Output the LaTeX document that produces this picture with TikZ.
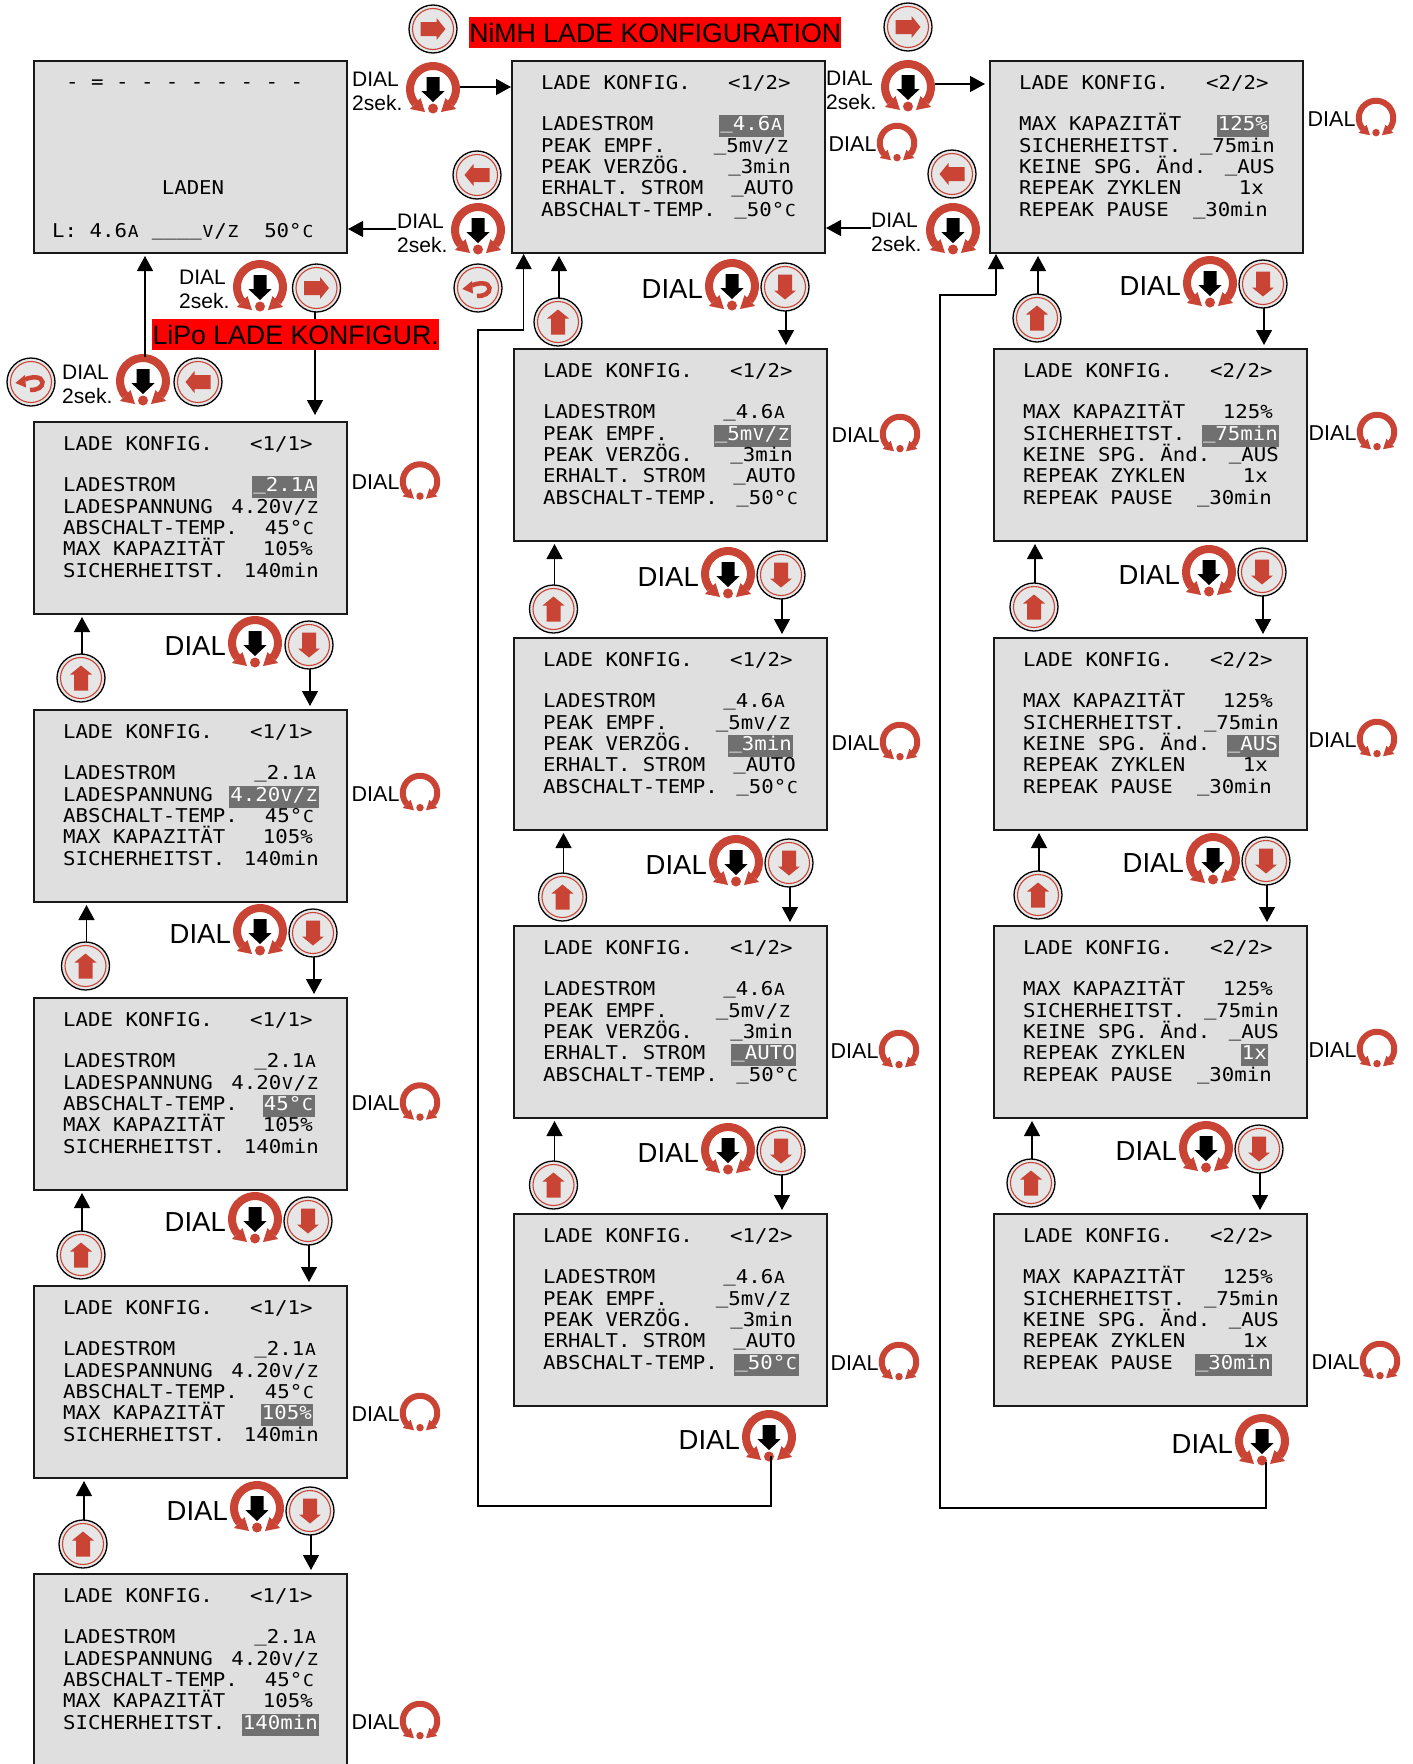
\documentclass[tikz,border=0pt]{standalone}
\usepackage{fontspec}
\usetikzlibrary{arrows.meta,calc}
\setmainfont{Liberation Sans}
\newfontfamily\lcdfont[FakeStretch=1.09]{DejaVu Sans Mono}
\definecolor{dred}{HTML}{C94435}
\definecolor{lcdgray}{HTML}{DFDFDF}
\definecolor{hlgray}{HTML}{707070}
\definecolor{btngray}{HTML}{E6E6E6}
\newcommand\cw[1]{\makebox[12.5pt]{\fontsize{16.5}{16.5}\selectfont #1}}
\newcommand\sA{\cw{A}}
\newcommand\VZ{\cw{V}/\cw{Z}}
\newcommand\dC{°\cw{C}}
\newcommand\ul{\raisebox{2pt}{\char`\_}}
\tikzset{
  lcdbox/.style={draw=black!90,line width=1.5pt,fill=lcdgray,rectangle,anchor=north west,minimum width=313pt,minimum height=192pt,inner sep=0pt,outer sep=0pt},
  lcdtxt/.style={font=\lcdfont\fontsize{19}{19}\selectfont,inner sep=0pt,text=black},
  labtxt/.style={lcdtxt,anchor=base west},
  valpl/.style={lcdtxt,anchor=base east},
  valhl/.style={lcdtxt,anchor=base east,fill=hlgray,text=white,text height=15.5pt,text depth=6.5pt,inner xsep=1pt},
  conn/.style={line width=1.3pt,black,-{Triangle[length=15pt,width=16pt]}},
  iconanchor/.style={circle,inner sep=0pt,outer sep=0pt},
  btnnode/.style={circle,draw=black,line width=1.3pt,fill=btngray,minimum size=48pt,inner sep=0pt,outer sep=0pt},
  dialsm/.style={font=\fontsize{21.5}{21.5}\selectfont,inner sep=0pt},
  diallg/.style={font=\fontsize{27.5}{27.5}\selectfont,inner sep=0pt,anchor=east},
  dialtwo/.style={font=\fontsize{21}{24}\selectfont,inner sep=0pt,align=left,anchor=west},
  redlabel/.style={fill=red,text=black,font=\fontsize{26.7}{26.7}\selectfont,inner sep=0pt,anchor=west,minimum height=31pt},
}
% ---- icons ----
\newcommand\dialicon[5]{%
  \node[iconanchor,minimum size=#4*54pt] (#1) at (#2,#3) {};
  \begin{scope}[shift={(#2,#3)},x=1pt,y=1pt,scale=#4]
    \draw[dred,line width=#4*8pt] (-40:23) arc (-40:220:23);
    \fill[dred] (-23,-20)--(-8,-23)--(-12.5,-9)--cycle;
    \fill[dred] (23,-20)--(8,-23)--(12.5,-9)--cycle;
    \fill[dred] (0,-19.5) circle (5);
    \ifnum#5=1
      \fill[black] (-6.5,12)--(6.5,12)--(6.5,-2)--(11.7,-2)--(0,-13)--(-11.7,-2)--(-6.5,-2)--cycle;
    \fi
  \end{scope}}
\newcommand\arrowbtn[4]{%
  \node[btnnode] (#1) at (#2,#3) {};
  \begin{scope}[shift={(#2,#3)},rotate=#4,x=1pt,y=1pt]
    \draw[dred,line width=1.1pt] (0,0) circle (20.5);
    \fill[dred] (-12.5,7)--(3.5,7)--(3.5,11)--(12.5,0)--(3.5,-11)--(3.5,-7)--(-12.5,-7)--cycle;
  \end{scope}}
\newcommand\backbtn[3]{%
  \node[btnnode] (#1) at (#2,#3) {};
  \begin{scope}[shift={(#2,#3)},x=1pt,y=1pt]
    \draw[dred,line width=1.1pt] (0,0) circle (20.5);
    \fill[dred] (-15.7,-1)--(-6,7)--(-5,-5.5)--cycle;
    \draw[dred,line width=4.5pt] (-6,2.5) .. controls (0,5.5) and (11,6) .. (11.5,0) .. controls (12,-5) and (6,-8.5) .. (-1,-8);
  \end{scope}}
\newcommand\smalldial[3]{%
  \dialicon{sd#1}{#2}{#3}{0.75}{0}
  \node[dialsm,anchor=west] (st#1) at (#2-68.5,#3+1) {DIAL};}
% row between two screens: id, dial x,y, btn x,y, up x,y, next screen, prev screen
\newcommand\crow[9]{%
  \node[diallg] (dt#1) at (#2-29,#3+3) {DIAL};
  \dialicon{dl#1}{#2}{#3}{1}{1}
  \arrowbtn{bd#1}{#4}{#5}{-90}
  \arrowbtn{bu#1}{#6}{#7}{90}
  \draw[conn,shorten >=4pt] ([xshift=1pt]bd#1.south) -- ([xshift=1pt]bd#1.south |- #8.north);
  \draw[conn,shorten >=3pt] ([xshift=1pt]bu#1.north) -- ([xshift=1pt]bu#1.north |- #9.south);}
% ---- screens ----
\newcommand\lefts[3]{%
  \node[lcdbox] (#1) at (34,#2) {};
  \node[labtxt] (#1-t) at (34+29,#2+28.7) {LADE KONFIG.~~~<1/1>};
  \foreach \nn/\lab/\val/\rx in {1/LADESTROM/{\ul 2.1\sA}/283,2/LADESPANNUNG/{4.20\VZ}/285,3/ABSCHALT-TEMP./{45\dC}/281,4/MAX KAPAZITÄT/{105\%}/279,5/SICHERHEITST./{140min}/285}{%
    \node[labtxt] (#1-l\nn) at (34+29,#2+48.3+21.4*\nn) {\lab};
    \ifnum\nn=#3
      \node[valhl] (#1-v\nn) at (34+\rx,#2+48.3+21.4*\nn) {\val};
    \else
      \node[valpl] (#1-v\nn) at (34+\rx,#2+48.3+21.4*\nn) {\val};
    \fi}}
\newcommand\mids[4]{%
  \node[lcdbox] (#1) at (#2,#3) {};
  \node[labtxt] (#1-t) at (#2+29,#3+28.7) {LADE KONFIG.~~~<1/2>};
  \foreach \nn/\lab/\val/\rx in {1/LADESTROM/{\ul 4.6\sA}/272,2/PEAK EMPF./{\ul 5m\VZ}/277,3/PEAK VERZÖG./{\ul 3min}/279,4/ERHALT. STROM/{\ul AUTO}/282,5/ABSCHALT-TEMP./{\ul 50\dC}/285}{%
    \node[labtxt] (#1-l\nn) at (#2+29,#3+48.3+21.4*\nn) {\lab};
    \ifnum\nn=#4
      \node[valhl] (#1-v\nn) at (#2+\rx,#3+48.3+21.4*\nn) {\val};
    \else
      \node[valpl] (#1-v\nn) at (#2+\rx,#3+48.3+21.4*\nn) {\val};
    \fi}}
\newcommand\rights[4]{%
  \node[lcdbox] (#1) at (#2,#3) {};
  \node[labtxt] (#1-t) at (#2+29,#3+28.7) {LADE KONFIG.~~~<2/2>};
  \foreach \nn/\lab/\val/\rx in {1/MAX KAPAZITÄT/{125\%}/279,2/SICHERHEITST./{\ul 75min}/285,3/KEINE SPG. Änd./{\ul AUS}/285,4/REPEAK ZYKLEN/{1x}/274,5/REPEAK PAUSE/{\ul 30min}/278}{%
    \node[labtxt] (#1-l\nn) at (#2+29,#3+48.3+21.4*\nn) {\lab};
    \ifnum\nn=#4
      \node[valhl] (#1-v\nn) at (#2+\rx,#3+48.3+21.4*\nn) {\val};
    \else
      \node[valpl] (#1-v\nn) at (#2+\rx,#3+48.3+21.4*\nn) {\val};
    \fi}}
\begin{document}
\begin{tikzpicture}[x=1pt,y=-1pt]
\useasboundingbox (0,0) rectangle (1413,1764);
% ---- LADEN screen
\node[lcdbox] (S0) at (34,61) {};
\node[labtxt] (S0-a) at (66,88.7) {-~=~-~-~-~-~-~-~-~-};
\node[lcdtxt,anchor=base] (S0-b) at (193,194.7) {LADEN};
\node[labtxt] (S0-c) at (52,237.7) {L:~4.6\sA~\ul\ul\ul\ul\VZ~~50\dC};
% ---- screens
\lefts{L1}{422}{1}
\lefts{L2}{710}{2}
\lefts{L3}{998}{3}
\lefts{L4}{1286}{4}
\lefts{L5}{1574}{5}
\mids{M0}{512}{61}{1}
\mids{M1}{514}{349}{2}
\mids{M2}{514}{638}{3}
\mids{M3}{514}{926}{4}
\mids{M4}{514}{1214}{5}
\rights{R0}{990}{61}{1}
\rights{R1}{994}{349}{2}
\rights{R2}{994}{638}{3}
\rights{R3}{994}{926}{4}
\rights{R4}{994}{1214}{5}
% ---- rows
\crow{a1}{255}{643}{309}{645}{81}{678}{L2}{L1}
\crow{a2}{260}{931}{313}{933}{85.5}{966}{L3}{L2}
\crow{a3}{255}{1219}{308}{1221}{81}{1255}{L4}{L3}
\crow{a4}{257}{1508}{310}{1511}{83}{1544}{L5}{L4}
\crow{b0}{732}{286}{785}{287}{558}{322}{M1}{M0}
\crow{b1}{728}{574}{781}{575}{553.5}{609}{M2}{M1}
\crow{b2}{736}{862}{789}{863}{562.5}{897}{M3}{M2}
\crow{b3}{728}{1150}{781}{1151}{553.5}{1185}{M4}{M3}
\crow{c0}{1210}{283}{1263}{284}{1037}{318}{R1}{R0}
\crow{c1}{1209}{572}{1262}{572}{1034}{607}{R2}{R1}
\crow{c2}{1213}{860}{1266}{861}{1038}{895}{R3}{R2}
\crow{c3}{1206}{1148}{1259}{1149}{1031}{1183}{R4}{R3}
% ---- small dials
\smalldial{L1}{420}{481.5}
\smalldial{L2}{420}{793}
\smalldial{L3}{420}{1102.5}
\smalldial{L4}{420}{1413}
\smalldial{L5}{420}{1721}
\smalldial{M0}{897}{143}
\smalldial{M1}{900}{434}
\smalldial{M2}{900}{742}
\smalldial{M3}{899}{1050}
\smalldial{M4}{899}{1362}
\smalldial{R0}{1376}{118}
\smalldial{R1}{1377}{432}
\smalldial{R2}{1377}{739}
\smalldial{R3}{1377}{1049}
\smalldial{R4}{1380}{1361}
% ---- top: to NiMH screens
\node[dialtwo] (tA) at (352,91.5) {DIAL\\2sek.};
\dialicon{dA}{433}{89}{1}{1}
\arrowbtn{bA}{433}{29}{0}
\draw[conn,shorten >=1pt] ([yshift=2pt]dA.east) -- ([yshift=2pt]dA.east -| M0.west);
\node[dialtwo] (tD) at (826,90) {DIAL\\2sek.};
\dialicon{dD}{908}{87}{1}{1}
\arrowbtn{bD}{908}{27}{0}
\draw[conn,shorten >=5pt] ([yshift=3pt]dD.east) -- ([yshift=3pt]dD.east -| R0.west);
% ---- back to LADEN from M0
\node[dialtwo] (tB) at (397,233) {DIAL\\2sek.};
\dialicon{dB}{478}{230}{1}{1}
\arrowbtn{bB}{477}{175}{180}
\backbtn{bB2}{478}{288}
\coordinate (cB) at (396,229);
\draw[conn,shorten >=1pt] (cB) -- (cB -| S0.east);
% ---- back to M0 from R0
\node[dialtwo] (tC) at (871,232) {DIAL\\2sek.};
\dialicon{dC}{953}{230}{1}{1}
\arrowbtn{bC}{952}{174}{180}
\coordinate (cC) at (871,228);
\draw[conn,shorten >=1pt] (cC) -- (cC -| M0.east);
% ---- LiPo entry
\node[dialtwo] (tE) at (179,289.5) {DIAL\\2sek.};
\dialicon{dE}{260}{287}{1}{1}
\arrowbtn{bE}{316.5}{288}{0}
\draw[conn,shorten >=7pt] ([xshift=-1.5pt]bE.south) -- ([xshift=-1.5pt]bE.south |- L1.north);
\backbtn{bF}{31}{382}
\node[dialtwo] (tF) at (62,384) {DIAL\\2sek.};
\dialicon{dF}{143}{381}{1}{1}
\arrowbtn{bF2}{198}{382}{180}
\draw[conn,shorten >=3pt] ([xshift=2pt,yshift=-3pt]dF.north) -- ([xshift=2pt]dF.north |- S0.south);
\node[redlabel,minimum width=287pt] (lipo) at (152,334.5) {LiPo LADE KONFIGUR.};
\node[redlabel,minimum width=372pt] (nimh) at (469,32.5) {NiMH LADE KONFIGURATION};
% ---- wraparound connectors
\node[diallg] (dtM) at (740,1440) {DIAL};
\dialicon{dM}{769}{1437}{1}{1}
\coordinate (mA) at (478,1506);
\coordinate (mB) at (478,330);
\coordinate (mC) at (523.6,330);
\draw[line width=1.3pt] ([xshift=2pt,yshift=8pt]dM.south) |- (mA) -- (mB) -- (mC);
\draw[conn,shorten >=1pt] (mC) -- (mC |- M0.south);
\node[diallg] (dtR) at (1233,1444) {DIAL};
\dialicon{dR}{1262}{1441}{1}{1}
\coordinate (rA) at (940,1508);
\coordinate (rB) at (940,295);
\coordinate (rC) at (996,295);
\draw[line width=1.3pt] ([xshift=4pt,yshift=6pt]dR.south) |- (rA) -- (rB) -- (rC);
\draw[conn,shorten >=1pt] (rC) -- (rC |- R0.south);
\end{tikzpicture}
\end{document}
